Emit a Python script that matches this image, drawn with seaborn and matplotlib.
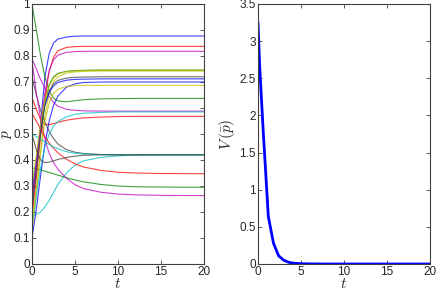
import numpy as np
import pandas as pd
import matplotlib
matplotlib.use("Agg")
import matplotlib.pyplot as plt
import seaborn as sns

# time samples for the trajectories (left panel)
t_vals = [0, 0.5, 1, 1.5, 2, 2.5, 3, 4, 5, 6, 8, 10, 12, 15, 20]

# p(t) for each trajectory
p_traj = [
    [0.20, 0.36, 0.54, 0.72, 0.81, 0.85, 0.865, 0.873, 0.876, 0.877, 0.877, 0.877, 0.877, 0.877, 0.877],
    [1.00, 0.90, 0.80, 0.72, 0.665, 0.638, 0.627, 0.624, 0.628, 0.632, 0.635, 0.636, 0.637, 0.637, 0.637],
    [0.64, 0.595, 0.555, 0.538, 0.536, 0.54, 0.545, 0.553, 0.558, 0.562, 0.565, 0.567, 0.568, 0.568, 0.568],
    [0.19, 0.19, 0.20, 0.22, 0.245, 0.275, 0.305, 0.35, 0.38, 0.397, 0.41, 0.416, 0.419, 0.42, 0.42],
    [0.79, 0.75, 0.71, 0.675, 0.645, 0.622, 0.607, 0.595, 0.591, 0.589, 0.588, 0.588, 0.588, 0.588, 0.588],
    [0.12, 0.27, 0.43, 0.57, 0.655, 0.70, 0.72, 0.734, 0.739, 0.741, 0.742, 0.742, 0.742, 0.742, 0.742],
    [0.72, 0.65, 0.59, 0.545, 0.51, 0.482, 0.462, 0.44, 0.43, 0.425, 0.421, 0.42, 0.42, 0.42, 0.42],
    [0.10, 0.21, 0.34, 0.46, 0.55, 0.61, 0.645, 0.68, 0.693, 0.698, 0.70, 0.70, 0.70, 0.70, 0.70],
    [0.37, 0.366, 0.362, 0.357, 0.352, 0.347, 0.342, 0.332, 0.323, 0.316, 0.306, 0.30, 0.297, 0.296, 0.295],
    [0.18, 0.33, 0.49, 0.64, 0.74, 0.795, 0.82, 0.833, 0.836, 0.837, 0.837, 0.837, 0.837, 0.837, 0.837],
    [0.15, 0.26, 0.37, 0.45, 0.50, 0.53, 0.548, 0.566, 0.576, 0.58, 0.583, 0.585, 0.585, 0.585, 0.585],
    [0.78, 0.66, 0.56, 0.48, 0.425, 0.39, 0.365, 0.33, 0.305, 0.29, 0.276, 0.269, 0.266, 0.264, 0.263],
    [0.16, 0.29, 0.43, 0.55, 0.62, 0.655, 0.672, 0.683, 0.686, 0.687, 0.687, 0.687, 0.687, 0.687, 0.687],
    [0.25, 0.38, 0.51, 0.61, 0.665, 0.693, 0.706, 0.715, 0.718, 0.719, 0.72, 0.72, 0.72, 0.72, 0.72],
    [0.28, 0.40, 0.52, 0.61, 0.66, 0.685, 0.698, 0.707, 0.71, 0.711, 0.712, 0.712, 0.712, 0.712, 0.712],
    [0.22, 0.36, 0.50, 0.62, 0.69, 0.72, 0.733, 0.741, 0.744, 0.745, 0.746, 0.746, 0.746, 0.746, 0.746],
    [0.58, 0.55, 0.52, 0.49, 0.465, 0.445, 0.428, 0.403, 0.385, 0.373, 0.36, 0.353, 0.35, 0.348, 0.347],
    [0.50, 0.49, 0.48, 0.47, 0.46, 0.45, 0.443, 0.432, 0.426, 0.423, 0.421, 0.42, 0.42, 0.42, 0.42],
    [0.24, 0.38, 0.53, 0.66, 0.745, 0.785, 0.803, 0.814, 0.817, 0.818, 0.818, 0.818, 0.818, 0.818, 0.818],
    [0.30, 0.42, 0.54, 0.63, 0.685, 0.715, 0.73, 0.74, 0.743, 0.744, 0.745, 0.745, 0.745, 0.745, 0.745],
    [0.50, 0.44, 0.40, 0.39, 0.392, 0.397, 0.402, 0.41, 0.415, 0.418, 0.42, 0.42, 0.42, 0.42, 0.42],
]

# old matlab colour order b g r c m y k
matlab_colors = ["#0000ff", "#008000", "#ff0000", "#00bfbf", "#bf00bf", "#bfbf00", "#404040"]

# V(p bar) on the right panel
t_v = [0, 0.2, 0.6, 1.2, 1.8, 2.4, 3.0, 3.6, 4.2, 5, 6, 8, 10, 15, 20]
v_vals = [3.25, 2.65, 1.80, 0.64, 0.28, 0.11, 0.05, 0.022, 0.01, 0.004, 0.002, 0, 0, 0, 0]

p_ticks = [0, 0.1, 0.2, 0.3, 0.4, 0.5, 0.6, 0.7, 0.8, 0.9, 1]
v_ticks = [0, 0.5, 1, 1.5, 2, 2.5, 3, 3.5]
t_ticks = [0, 5, 10, 15, 20]

sns.set_style("ticks")
plt.rcParams["font.family"] = ["Liberation Sans", "DejaVu Sans"]
plt.rcParams["mathtext.fontset"] = "cm"
plt.rcParams["xtick.direction"] = "in"
plt.rcParams["ytick.direction"] = "in"

rows = []
for i, traj in enumerate(p_traj):
    for tt, pp in zip(t_vals, traj):
        rows.append({"t": tt, "p": pp, "line": i})
df = pd.DataFrame(rows)
palette = [matlab_colors[i % len(matlab_colors)] for i in range(len(p_traj))]

df_v = pd.DataFrame({"t": t_v, "V": v_vals})

fig = plt.figure(figsize=(4.36, 2.91), dpi=100)
ax1 = fig.add_axes([32 / 436, 1 - 264 / 291, 172 / 436, 260 / 291])
ax2 = fig.add_axes([258 / 436, 1 - 264 / 291, 172 / 436, 260 / 291])

sns.lineplot(data=df, x="t", y="p", hue="line", palette=palette, legend=False,
             linewidth=0.8, alpha=0.75, ax=ax1)
sns.lineplot(data=df_v, x="t", y="V", color="#0000ff", linewidth=2, ax=ax2)

def fmt(v):
    return ("%g" % v)

for ax, yt in [(ax1, p_ticks), (ax2, v_ticks)]:
    ax.set_xlim(0, 20)
    ax.set_ylim(yt[0], yt[-1])
    ax.set_xticks(t_ticks)
    ax.set_xticklabels([fmt(x) for x in t_ticks])
    ax.set_yticks(yt)
    ax.set_yticklabels([fmt(y) for y in yt])
    ax.tick_params(labelsize=8.5, length=3, width=0.6, color="#404040",
                   top=True, right=True, pad=1.5)
    for s in ax.spines.values():
        s.set_visible(True)
        s.set_color("#404040")
        s.set_linewidth(0.8)
    ax.set_xlabel("$t$", fontsize=11, labelpad=-1)

ax1.set_ylabel("$p$", fontsize=11)
ax1.yaxis.set_label_coords(-0.105, 0.5)
ax2.set_ylabel(r"$V\,(\bar{p})$", fontsize=11, labelpad=2)

fig.savefig("out.png", dpi=100)
